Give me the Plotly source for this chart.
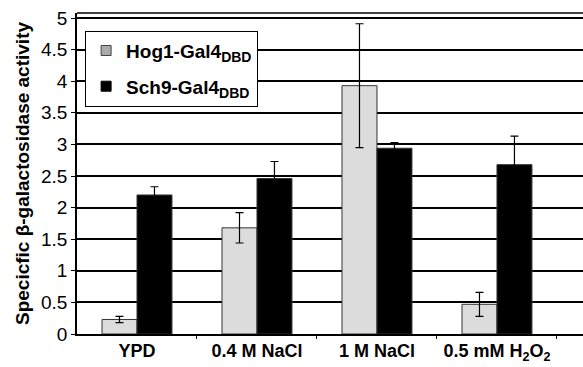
import plotly.graph_objects as go

categories = ["YPD", "0.4 M NaCl", "1 M NaCl", "0.5 mM H2O2"]
x_tick_labels = ["YPD", "0.4 M NaCl", "1 M NaCl", "0.5 mM H<sub>2</sub>O<sub>2</sub>"]
hog1_values = [0.23, 1.68, 3.93, 0.47]
hog1_errors = [0.05, 0.24, 0.98, 0.19]
sch9_values = [2.20, 2.46, 2.94, 2.68]
sch9_errors = [0.13, 0.27, 0.09, 0.45]
y_ticks = [0, 0.5, 1, 1.5, 2, 2.5, 3, 3.5, 4, 4.5, 5]
y_tick_labels = ["0", "0.5", "1", "1.5", "2", "2.5", "3", "3.5", "4", "4.5", "5"]
series_names = ["Hog1-Gal4", "Sch9-Gal4"]
series_sub = "DBD"

FONT = "Liberation Sans, Arial, sans-serif"
X_RANGE = [-0.5, 3.717]
boundary_ticks = [i + 0.5 for i in range(len(categories))]


def legend_name(n):
    return "<b>" + n + "<sub><span style='font-size:14px'>" + series_sub + "</span></sub></b>"


fig = go.Figure()
fig.add_trace(go.Bar(
    x=categories, y=hog1_values, name=series_names[0], showlegend=False,
    marker=dict(color="#dcdcdc", line=dict(color="#333333", width=1)),
    error_y=dict(type="data", array=hog1_errors, color="black", thickness=1.2, width=4),
))
fig.add_trace(go.Bar(
    x=categories, y=sch9_values, name=series_names[1], showlegend=False,
    marker=dict(color="#000000", line=dict(color="#333333", width=1)),
    error_y=dict(type="data", array=sch9_errors, color="black", thickness=1.2, width=4),
))
fig.add_trace(go.Scatter(
    x=[None], y=[None], mode="markers", name=legend_name(series_names[0]), legendgroup="a",
    xaxis="x2",
    marker=dict(symbol="square", size=10, color="#aaaaaa", line=dict(color="#444444", width=1)),
))
fig.add_trace(go.Scatter(
    x=[None], y=[None], mode="markers", name=legend_name(series_names[1]), legendgroup="b",
    xaxis="x2",
    marker=dict(symbol="square", size=10, color="#000000", line=dict(color="#000000", width=1)),
))

fig.update_layout(
    template="none",
    width=583, height=367,
    margin=dict(l=77, r=0, t=13, b=33),
    paper_bgcolor="white", plot_bgcolor="white",
    barmode="group", bargap=0.417, bargroupgap=0,
    font=dict(family=FONT, color="black"),
    legend=dict(
        x=0.016, y=0.945, xanchor="left", yanchor="top",
        bgcolor="white", bordercolor="black", borderwidth=1,
        font=dict(family=FONT, size=19, color="black"),
        traceorder="grouped", tracegroupgap=8, itemwidth=30,
    ),
    xaxis=dict(
        type="category", range=X_RANGE,
        tickmode="array", tickvals=categories,
        ticktext=["<b>" + t + "</b>" for t in x_tick_labels],
        tickangle=0,
        showline=True, linecolor="black", linewidth=1.5,
        ticks="", showgrid=False, zeroline=False,
        tickfont=dict(family=FONT, size=18, color="black"),
    ),
    xaxis2=dict(
        overlaying="x", anchor="y", side="bottom", type="linear", range=X_RANGE,
        tickmode="array", tickvals=boundary_ticks, showticklabels=False,
        ticks="outside", ticklen=4, tickcolor="black", tickwidth=1,
        showline=False, showgrid=False, gridcolor="rgba(0,0,0,0)", gridwidth=0,
        zeroline=False, minor=dict(showgrid=False, ticks=""),
    ),
    yaxis=dict(
        range=[0, 5.08], tickmode="array", tickvals=y_ticks, ticktext=y_tick_labels,
        showline=True, linecolor="black", linewidth=1.5,
        ticks="outside", ticklen=4, tickcolor="black", tickwidth=1,
        showgrid=True, gridcolor="#000000", gridwidth=1.5,
        tickfont=dict(family=FONT, size=19, color="black"),
        title=dict(text="<b>Specicfic β-galactosidase activity</b>",
                   font=dict(family=FONT, size=19, color="black"), standoff=6),
        zeroline=False,
    ),
    shapes=[dict(type="line", xref="paper", yref="paper", x0=0, x1=1, y0=1, y1=1,
                 line=dict(color="black", width=1.5))],
)

fig.write_html("out.html", config={"displayModeBar": False},
               post_script="document.body.style.margin='0';")
